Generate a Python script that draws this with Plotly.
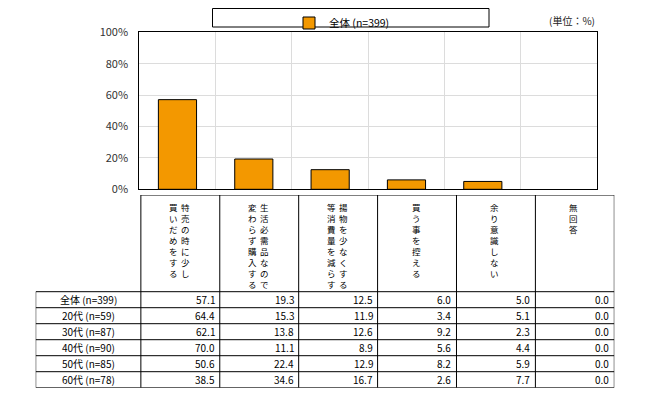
import plotly.graph_objects as go

# ---------------- data ----------------
categories = [
    "特売の時に少し買いだめをする",
    "生活必需品なので変わらず購入する",
    "揚物を少なくする等消費量を減らす",
    "買う事を控える",
    "余り意識しない",
    "無回答",
]
header_lines = [
    ["特売の時に少し", "買いだめをする"],
    ["生活必需品なので", "変わらず購入する"],
    ["揚物を少なくする", "等消費量を減らす"],
    ["買う事を控える"],
    ["余り意識しない"],
    ["無回答"],
]
row_labels = ["全体 (n=399)", "20代 (n=59)", "30代 (n=87)", "40代 (n=90)", "50代 (n=85)", "60代 (n=78)"]
table_values = [
    [57.1, 19.3, 12.5, 6.0, 5.0, 0.0],
    [64.4, 15.3, 11.9, 3.4, 5.1, 0.0],
    [62.1, 13.8, 12.6, 9.2, 2.3, 0.0],
    [70.0, 11.1, 8.9, 5.6, 4.4, 0.0],
    [50.6, 22.4, 12.9, 8.2, 5.9, 0.0],
    [38.5, 34.6, 16.7, 2.6, 7.7, 0.0],
]
series_name = "全体 (n=399)"
series_values = table_values[0]
y_ticks = [0, 20, 40, 60, 80, 100]
y_ticklabels = ["0%", "20%", "40%", "60%", "80%", "100%"]
unit_label = "(単位：%)"

# ---------------- layout helpers ----------------
# The page body has an 8px margin, so the figure is 8px smaller and all
# window-pixel positions are converted with that offset.
OFF = 8
W, H = 650 - OFF, 395 - OFF
FONT = "Noto Sans CJK JP"
def px_x(v):
    return (v - OFF) / W
def px_y(v):
    return 1 - (v - OFF) / H

ORANGE = "#F39800"
GRID = "#DCDCDC"

# table geometry (in table-axis units)
LABEL_W = 105.3 / 79.0     # label column width, in data-column units
HEAD_H = 96.7 / 16.0       # header height, in row units
N_ROWS = len(row_labels)
N_COLS = len(categories)
TOTAL_H = HEAD_H + N_ROWS

fig = go.Figure()

fig.add_trace(go.Bar(
    x=categories, y=series_values, name=series_name,
    marker=dict(color=ORANGE, line=dict(color="black", width=[1 if v > 0 else 0 for v in series_values])),
    showlegend=True, hoverinfo="skip",
))

# invisible trace to activate the table axes
fig.add_trace(go.Scatter(x=[-LABEL_W, N_COLS], y=[0, TOTAL_H], xaxis="x2", yaxis="y2",
                         mode="markers", marker=dict(opacity=0), showlegend=False, hoverinfo="skip"))

shapes = []
annotations = []

# legend box and unit label
shapes.append(dict(type="rect", xref="paper", yref="paper",
                   x0=px_x(212.5), x1=px_x(489), y0=px_y(27), y1=px_y(8.5),
                   line=dict(color="black", width=1), fillcolor="white", layer="below"))
annotations.append(dict(xref="paper", yref="paper", x=px_x(597), y=px_y(20),
                        xanchor="right", yanchor="middle", text=unit_label, showarrow=False,
                        font=dict(family=FONT, size=10, color="#222")))

# table lines
def line(x0, y0, x1, y1):
    shapes.append(dict(type="line", xref="x2", yref="y2", x0=x0, y0=y0, x1=x1, y1=y1,
                       line=dict(color="black", width=1)))

line(0, 0, N_COLS, 0)
for k in range(N_ROWS + 1):
    line(-LABEL_W, HEAD_H + k, N_COLS, HEAD_H + k)
line(-LABEL_W, HEAD_H, -LABEL_W, TOTAL_H)
for j in range(N_COLS + 1):
    line(j, 0, j, TOTAL_H)

# table texts
for i, lab in enumerate(row_labels):
    annotations.append(dict(xref="x2", yref="y2", x=-LABEL_W / 2, y=HEAD_H + i + 0.5,
                            xanchor="center", yanchor="middle", text=lab, showarrow=False,
                            font=dict(family=FONT, size=10, color="black")))
    for j, v in enumerate(table_values[i]):
        annotations.append(dict(xref="x2", yref="y2", x=j + 1, y=HEAD_H + i + 0.5,
                                xanchor="right", yanchor="middle", xshift=-3,
                                text=f"{v:.1f}", showarrow=False,
                                font=dict(family=FONT, size=10, color="black")))

# vertical header text (one character per line, lines read right to left)
for j, lines_ in enumerate(header_lines):
    offsets = [5.5, -7.0] if len(lines_) == 2 else [-1.0]
    for li, s in enumerate(lines_):
        annotations.append(dict(xref="x2", yref="y2", x=j + 0.5, y=0,
                                xshift=offsets[li], yshift=-4,
                                xanchor="center", yanchor="top", align="center",
                                text="<br>".join(s), showarrow=False,
                                font=dict(family=FONT, size=8.5, color="black")))

fig.update_layout(
    width=W, height=H, autosize=False,
    margin=dict(l=0, r=0, t=0, b=0, pad=0, autoexpand=False),
    paper_bgcolor="white", plot_bgcolor="white",
    font=dict(family=FONT, size=11, color="#333"),
    bargap=0.5,
    xaxis=dict(domain=[px_x(139.3), px_x(597.3)], type="category", showticklabels=False,
               showgrid=True, gridcolor=GRID, tickson="boundaries", ticks="",
               showline=True, linecolor="black", linewidth=1, mirror=True, fixedrange=True,
               automargin=False),
    yaxis=dict(domain=[px_y(189.3), px_y(32.3)], range=[0, 100], tickvals=y_ticks,
               ticktext=y_ticklabels, showgrid=True, gridcolor=GRID, zeroline=False,
               showline=True, linecolor="black", linewidth=1, mirror=True,
               ticks="", ticklabelstandoff=8, tickfont=dict(family=FONT, size=11, color="#333"),
               fixedrange=True, automargin=False),
    xaxis2=dict(domain=[px_x(35.7), px_x(614.3)], range=[-LABEL_W, N_COLS], visible=False,
                anchor="y2", fixedrange=True),
    yaxis2=dict(domain=[px_y(387.7), px_y(195)], range=[TOTAL_H, 0], visible=False,
                anchor="x2", fixedrange=True),
    legend=dict(orientation="h", x=px_x(289), y=px_y(8.5), xanchor="left", yanchor="top",
                bgcolor="rgba(0,0,0,0)", borderwidth=0, font=dict(family=FONT, size=10.5, color="black"),
                itemclick=False, itemdoubleclick=False),
    shapes=shapes, annotations=annotations,
)

fig.write_html("out.html")
